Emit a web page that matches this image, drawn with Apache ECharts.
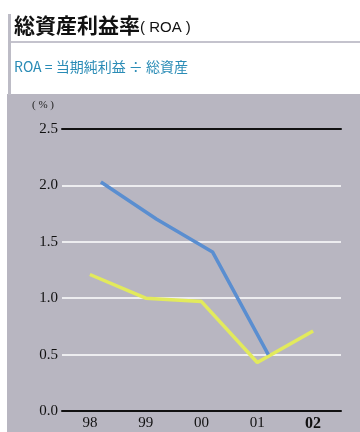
<!DOCTYPE html>
<html>
<head>
<meta charset="utf-8">
<script src="https://cdn.jsdelivr.net/npm/echarts@6/dist/echarts.min.js"></script>
<style>
  html, body { margin: 0; padding: 0; background: #ffffff; }
  #chart { width: 360px; height: 432px; }
</style>
</head>
<body>
<div id="chart"></div>
<script>
// Fiscal years on the horizontal axis
const years = ['98', '99', '00', '01', '02'];
// ROA (%) – two series
const seriesBlue = [2.03, 1.70, 1.41, 0.50, null];
const seriesYellow = [1.21, 1.00, 0.97, 0.43, 0.71];
// Vertical axis ticks
const yMin = 0, yMax = 2.5, yStep = 0.5;

const serif = '"Liberation Serif", "DejaVu Serif", serif';
const cjk = '"Noto Sans CJK JP", "Noto Sans", sans-serif';
const panelGrey = '#b8b6c1';

const chart = echarts.init(document.getElementById('chart'), null, { renderer: 'canvas' });

chart.setOption({
  animation: false,
  backgroundColor: '#ffffff',
  graphic: [
    // header accent bar and rule
    { type: 'rect', left: 8, top: 14, shape: { width: 3, height: 81 }, style: { fill: '#bdbcc6' }, z: 0 },
    { type: 'rect', left: 11, top: 41, shape: { width: 349, height: 2 }, style: { fill: '#c4c3cd' }, z: 0 },
    // plot panel
    { type: 'rect', left: 7, top: 94, shape: { width: 353, height: 338 }, style: { fill: panelGrey }, z: -1 },
    // title text
    {
      type: 'text', left: 14, top: 15, z: 5,
      style: {
        text: '{b|総資産利益率}{n|( ROA )}',
        rich: {
          b: { fontFamily: cjk, fontWeight: 'bold', fontSize: 21, fill: '#111111' },
          n: { fontFamily: '"Liberation Sans", Arial, sans-serif', fontSize: 15, fill: '#111111', padding: [4, 0, 0, 0] }
        }
      }
    },
    {
      type: 'text', left: 14, top: 60, z: 5,
      style: { text: 'ROA = 当期純利益 ÷ 総資産', fontFamily: cjk, fontSize: 14, fill: '#2a8cb6' }
    },
    {
      type: 'text', left: 32, top: 100, z: 5,
      style: { text: '( % )', fontFamily: serif, fontSize: 11, fill: '#222222' }
    }
  ],
  grid: [
    { left: 62, right: 19, top: 129, bottom: 21 },
    { left: 73, right: 8, top: 129, bottom: 21 }
  ],
  xAxis: [
    {
      type: 'category', gridIndex: 0, data: years, boundaryGap: true,
      axisLine: { lineStyle: { color: '#111111', width: 2 } },
      axisTick: { show: false },
      axisLabel: {
        interval: 0,
        fontFamily: serif, fontSize: 15, color: '#111111', margin: 5,
        formatter: v => v === '02' ? '{bold|' + v + '}' : v,
        rich: { bold: { fontFamily: serif, fontSize: 16, fontWeight: 'bold', color: '#111111' } }
      }
    },
    {
      type: 'category', gridIndex: 0, data: years, position: 'top',
      axisLine: { lineStyle: { color: '#111111', width: 2 } },
      axisTick: { show: false }, axisLabel: { show: false }
    },
    {
      type: 'category', gridIndex: 1, data: years, boundaryGap: true, show: false
    }
  ],
  yAxis: [
    {
      type: 'value', gridIndex: 0, min: yMin, max: yMax, interval: yStep,
      axisLine: { show: false }, axisTick: { show: false },
      axisLabel: { fontFamily: serif, fontSize: 15, color: '#111111', margin: 4, formatter: v => v.toFixed(1) },
      splitLine: { lineStyle: { color: '#ffffff', width: 1.5 } }
    },
    { type: 'value', gridIndex: 1, min: yMin, max: yMax, interval: yStep, show: false, splitLine: { show: false } }
  ],
  series: [
    {
      type: 'line', xAxisIndex: 2, yAxisIndex: 1, data: seriesBlue,
      symbol: 'none', lineStyle: { color: '#5a8ed0', width: 3.5 }, z: 3
    },
    {
      type: 'line', xAxisIndex: 0, yAxisIndex: 0, data: seriesYellow,
      symbol: 'none', lineStyle: { color: '#e2ea5c', width: 3.5 }, z: 2
    }
  ]
});
</script>
</body>
</html>
